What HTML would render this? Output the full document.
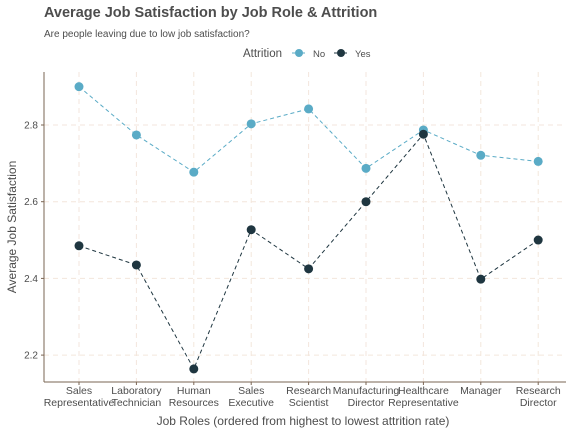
<!DOCTYPE html>
<html><head><meta charset="utf-8"><style>
body{margin:0;background:#fff;font-family:"Liberation Sans",sans-serif}
svg text{font-family:"Liberation Sans",sans-serif}
</style></head><body>
<svg id="c" width="576" height="432" xmlns="http://www.w3.org/2000/svg">
<text x="44" y="17" font-size="14.5" font-weight="bold" fill="#4d4d4d">Average Job Satisfaction by Job Role &amp; Attrition</text>
<text x="44" y="37" font-size="10" fill="#4d4d4d">Are people leaving due to low job satisfaction?</text>
<g>
<text x="243" y="57" font-size="11.5" fill="#4d4d4d">Attrition</text>
<g><line x1="292" y1="53" x2="306" y2="53" stroke="#5aabc6" stroke-dasharray="3,2"/><circle cx="299" cy="53" r="4" fill="#5aabc6"/><text x="313" y="57" font-size="9.5" fill="#4d4d4d">No</text></g>
<g><line x1="334" y1="53" x2="348" y2="53" stroke="#1f3640" stroke-dasharray="3,2"/><circle cx="341" cy="53" r="4" fill="#1f3640"/><text x="355" y="57" font-size="9.5" fill="#4d4d4d">Yes</text></g>
</g>
<g id="grid"></g><g id="marks"></g>
<line x1="44" y1="72" x2="44" y2="382" stroke="#7a6553"/>
<line x1="44" y1="382" x2="566" y2="382" stroke="#7a6553"/>
<text x="303" y="425" font-size="12" fill="#4d4d4d" text-anchor="middle">Job Roles (ordered from highest to lowest attrition rate)</text>
<text transform="translate(16,227) rotate(-90)" font-size="12" fill="#4d4d4d" text-anchor="middle">Average Job Satisfaction</text>
</svg>
<script>
const categories=[["Sales","Representative"],["Laboratory","Technician"],["Human","Resources"],["Sales","Executive"],["Research","Scientist"],["Manufacturing","Director"],["Healthcare","Representative"],["Manager",""],["Research","Director"]];
const noValues=[2.90,2.774,2.677,2.803,2.842,2.687,2.787,2.721,2.705];
const yesValues=[2.485,2.435,2.164,2.527,2.425,2.600,2.776,2.398,2.500];
const yTicks=[2.2,2.4,2.6,2.8];
const NS="http://www.w3.org/2000/svg";
const X=i=>79+i*57.4;
const Y=v=>125+(2.8-v)/0.2*76.7;
const g=document.getElementById('grid'),m=document.getElementById('marks');
function mk(tag,attrs,parent){const e=document.createElementNS(NS,tag);for(const k in attrs)e.setAttribute(k,attrs[k]);parent.appendChild(e);return e;}
yTicks.forEach(t=>{
 const l=mk('line',{x1:44,x2:566,y1:Y(t),y2:Y(t),stroke:'#f3e6dc','stroke-dasharray':'5,4'},g);
 
 
 mk('line',{x1:41,x2:44,y1:Y(t),y2:Y(t),stroke:'#7a6553'},g);
 const tx=mk('text',{x:38,y:Y(t)+3.5,'font-size':10,fill:'#4d4d4d','text-anchor':'end'},g);
 tx.textContent=t.toFixed(1);
 
 
});
categories.forEach((c,i)=>{
 const l=mk('line',{x1:X(i),x2:X(i),y1:72,y2:382,stroke:'#f3e6dc','stroke-dasharray':'5,4'},g);
 
 
 mk('line',{x1:X(i),x2:X(i),y1:382,y2:385,stroke:'#7a6553'},g);
 c.forEach((s,j)=>{const tx=mk('text',{x:X(i),y:394+j*12,'font-size':10.5,fill:'#4d4d4d','text-anchor':'middle'},g);tx.textContent=s;
 
 });
});
function series(vals,color,name){
 const p=mk('polyline',{points:vals.map((v,i)=>X(i)+','+Y(v)).join(' '),fill:'none',stroke:color,'stroke-width':1,'stroke-dasharray':'4,3'},m);
 
 
 vals.forEach((v,i)=>{const c=mk('circle',{cx:X(i),cy:Y(v),r:4.5,fill:color},m);
 
 });
}
series(noValues,'#5aabc6','no');
series(yesValues,'#1f3640','yes');
</script>
</body></html>
